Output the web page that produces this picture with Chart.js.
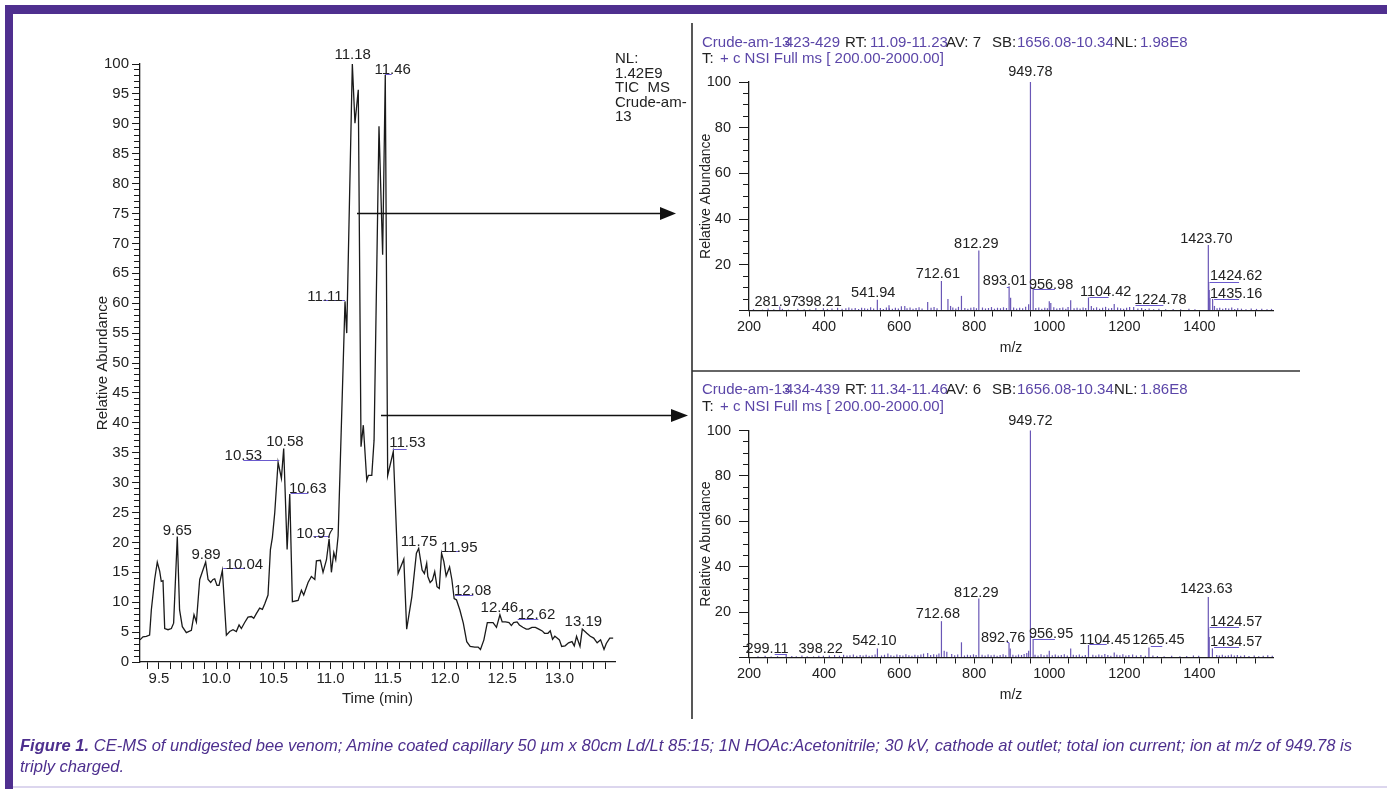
<!DOCTYPE html>
<html><head><meta charset="utf-8">
<script src="https://cdn.jsdelivr.net/npm/chart.js@4.4.1/dist/chart.umd.min.js"></script>
<style>
html,body{margin:0;padding:0;background:#fff;}
#page{position:relative;width:1387px;height:789px;overflow:hidden;background:#fff;font-family:'Liberation Sans',Arial,sans-serif;}
.box{position:absolute;}
.box canvas{display:block;}
.t{position:absolute;white-space:pre;font-size:15px;line-height:18px;color:#222;}
.p{color:#5b46a8;}
#overlay{position:absolute;left:0;top:0;pointer-events:none;}
.cap{position:absolute;left:20px;color:#4d2f8e;font-style:italic;font-size:17px;line-height:18px;white-space:pre;transform-origin:0 0;font-family:'Liberation Sans Narrow','Liberation Sans',Arial,sans-serif;}
</style></head>
<body>
<div id="page">
  <div class="box" style="left:0;top:0;width:692px;height:789px"><canvas id="tic" width="692" height="789"></canvas></div>
  <div class="box" style="left:692px;top:0;width:695px;height:371px"><canvas id="ms1" width="695" height="371"></canvas></div>
  <div class="box" style="left:692px;top:371px;width:695px;height:418px"><canvas id="ms2" width="695" height="418"></canvas></div>
  <svg id="overlay" width="1387" height="789">
    <rect x="5" y="5" width="1382" height="9" fill="#4f2f8f"/>
    <rect x="5" y="5" width="8" height="784" fill="#4f2f8f"/>
    <rect x="13" y="786" width="1374" height="2" fill="#dcd6ee"/>
    <line x1="692" y1="23" x2="692" y2="719" stroke="#111" stroke-width="1.4"/>
    <line x1="692" y1="371" x2="1300" y2="371" stroke="#333" stroke-width="1.4"/>
    <line x1="357" y1="213.5" x2="662" y2="213.5" stroke="#111" stroke-width="1.3"/>
    <polygon points="676,213.5 660,207 660,220" fill="#111"/>
    <line x1="381" y1="415.5" x2="673" y2="415.5" stroke="#111" stroke-width="1.3"/>
    <polygon points="688,415.5 671,409 671,422" fill="#111"/>
  </svg>
</div>
<script>
// ---------------- DATA ----------------
// Total ion current chromatogram (time in min, relative abundance %)
const ticTime = [
  9.334, 9.36, 9.389, 9.418, 9.433, 9.462, 9.485, 9.506, 9.52, 9.535,
  9.55, 9.579, 9.608, 9.628, 9.66, 9.68, 9.704, 9.739, 9.783, 9.806,
  9.827, 9.856, 9.908, 9.929, 9.952, 9.972, 9.987, 10.007, 10.025, 10.054,
  10.089, 10.118, 10.147, 10.176, 10.2, 10.22, 10.249, 10.278, 10.308, 10.328,
  10.351, 10.38, 10.404, 10.424, 10.453, 10.474, 10.491, 10.512, 10.541, 10.57,
  10.59, 10.62, 10.643, 10.666, 10.716, 10.745, 10.765, 10.803, 10.832, 10.862,
  10.876, 10.911, 10.934, 10.964, 10.987, 11.007, 11.028, 11.045, 11.066, 11.126,
  11.141, 11.19, 11.213, 11.242, 11.266, 11.286, 11.316, 11.33, 11.36, 11.38,
  11.423, 11.455, 11.478, 11.499, 11.548, 11.59, 11.64, 11.665, 11.71, 11.75,
  11.77, 11.80, 11.82, 11.84, 11.85, 11.87, 11.89, 11.91, 11.93, 11.95,
  11.97, 11.99, 12.01, 12.04, 12.06, 12.08, 12.10, 12.13, 12.16, 12.19,
  12.22, 12.26, 12.29, 12.31, 12.34, 12.37, 12.42, 12.45, 12.48, 12.50,
  12.53, 12.56, 12.58, 12.60, 12.63, 12.65, 12.68, 12.71, 12.73, 12.76,
  12.79, 12.82, 12.85, 12.87, 12.90, 12.92, 12.94, 12.96, 12.98, 13.00,
  13.02, 13.05, 13.08, 13.11, 13.13, 13.15, 13.18, 13.20, 13.24, 13.27,
  13.30, 13.33, 13.36, 13.39, 13.41, 13.44, 13.47
];
const ticAbund = [
  3.7, 4.2, 4.3, 4.5, 8.7, 13.8, 16.7, 15.2, 13.5, 13.6,
  5.6, 5.4, 5.6, 6.5, 21.0, 8.7, 5.9, 4.9, 5.3, 7.9,
  6.7, 13.8, 16.7, 13.8, 13.3, 13.8, 13.9, 12.8, 12.8, 15.3,
  4.5, 5.1, 5.4, 5.1, 6.2, 5.6, 6.6, 7.5, 7.6, 7.3,
  8.1, 9.0, 8.8, 9.7, 11.2, 18.8, 20.8, 25.0, 33.4, 30.7,
  35.7, 18.8, 28.1, 10.1, 10.3, 12.0, 11.2, 13.3, 14.3, 13.8,
  16.9, 17.0, 15.0, 17.1, 20.6, 15.0, 18.3, 17.1, 21.1, 60.3,
  55.0, 100, 90.1, 95.7, 36.0, 39.6, 30.4, 31.2, 31.2, 37.1,
  89.6, 68.1, 98.2, 31.2, 35.2, 14.8, 17.2, 5.5, 10.9, 18.2,
  19.0, 15.4, 14.8, 16.5, 14.3, 13.3, 13.7, 15.1, 12.6, 12.3,
  18.2, 16.8, 14.4, 15.9, 13.8, 10.6, 10.4, 8.7, 6.5, 3.4,
  2.6, 2.5, 2.5, 2.1, 3.7, 6.6, 6.6, 5.8, 7.9, 6.7,
  6.7, 6.6, 6.1, 6.6, 6.7, 6.2, 5.8, 5.5, 5.5, 5.8,
  5.8, 5.5, 5.2, 4.8, 4.8, 5.2, 3.8, 4.3, 4.0, 3.7,
  2.6, 2.7, 3.2, 3.4, 2.7, 4.3, 2.6, 5.5, 4.8, 4.3,
  4.0, 3.2, 3.7, 2.1, 3.1, 4.0, 4.0
];
// Chromatogram peak labels (text, anchor time, anchor abundance)
const ticLabelText = ['9.65','9.89','10.04','10.53','10.58','10.63','10.97','11.11','11.18','11.46','11.53','11.75','11.95','12.08','12.46','12.62','13.19'];
const ticLabelT = [9.66, 9.911, 10.246, 10.237, 10.601, 10.80, 10.864, 10.951, 11.193, 11.543, 11.671, 11.773, 12.125, 12.242, 12.475, 12.80, 13.209];
const ticLabelV = [22.0, 17.9, 16.3, 34.4, 36.8, 29.0, 21.5, 61.1, 101.5, 99.1, 36.6, 20.1, 19.1, 11.9, 9.0, 7.9, 6.7];
const ticLinks = [[10.062,10.243,15.8],[10.237,10.552,33.7],[10.651,10.805,28.3],[10.849,10.989,21.0],[10.936,11.126,60.6],
                  [11.476,11.534,98.4],[11.543,11.665,35.7],[11.971,12.125,18.6],[12.087,12.247,11.2],[12.636,12.816,7.2]];
const ticXTicks = [9.5, 10.0, 10.5, 11.0, 11.5, 12.0, 12.5, 13.0];

// Mass spectrum 1 (RT 11.09-11.23)
const ms1PeakMz  = [281.97, 398.21, 541.94, 573, 615, 676, 712.61, 730, 737, 766, 812.29, 893.01, 897, 945, 949.78, 956.98, 1000, 1004, 1057, 1104.42, 1112, 1173, 1224.78, 1423.70, 1424.62, 1426, 1428, 1435.16, 1440];
const ms1PeakInt = [1.8, 1.0, 4.7, 2.3, 2.0, 3.7, 12.9, 5.0, 2.0, 6.4, 26.3, 10.6, 5.6, 2.7, 100, 9.4, 4.0, 3.3, 4.5, 5.7, 2.0, 2.8, 1.5, 28.7, 12.5, 9.0, 5.5, 5.0, 2.0];
const ms1Noise = [
  [212,0.6],[236,0.4],[251,0.9],[266,0.5],[289,0.7],[305,0.4],[330,0.8],[347,0.5],[362,0.6],[378,1.1],
  [409,0.7],[421,0.9],[436,1.2],[448,0.8],[458,1.0],[466,1.3],[474,0.9],[483,1.1],[492,0.7],[500,1.2],
  [508,1.0],[516,0.8],[524,1.4],[532,0.9],[550,1.1],[558,0.7],[566,1.3],[574,1.0],[582,0.8],[590,1.2],
  [598,0.9],[606,1.9],[621,1.0],[629,1.3],[637,0.8],[645,1.1],[653,1.4],[661,0.9],[685,1.2],[693,1.5],
  [701,1.0],[743,1.3],[751,0.9],[758,1.6],[775,1.1],[783,0.8],[791,1.2],[799,1.4],[806,1.0],[822,1.3],
  [830,0.9],[838,1.1],[846,1.5],[854,0.8],[862,1.2],[870,1.0],[878,1.4],[886,1.1],[905,1.3],[913,0.9],
  [921,1.2],[929,1.0],[937,1.6],[964,1.1],[972,1.3],[980,0.8],[988,1.2],[995,1.0],[1012,1.4],[1020,0.9],
  [1028,1.1],[1036,1.3],[1044,0.8],[1050,1.5],[1066,1.0],[1074,1.2],[1082,0.9],[1090,1.3],[1097,1.1],[1118,1.0],
  [1126,1.4],[1134,0.8],[1142,1.2],[1150,1.6],[1158,0.9],[1166,1.1],[1182,1.3],[1190,1.0],[1198,0.8],[1206,1.2],
  [1214,1.5],[1236,0.9],[1246,1.1],[1256,0.7],[1266,0.9],[1278,0.6],[1292,0.8],[1310,0.5],[1330,0.7],[1350,0.6],
  [1372,0.8],[1388,0.5],[1447,1.0],[1454,1.2],[1462,0.8],[1470,1.1],[1478,0.9],[1486,1.3],[1494,0.7],[1502,1.0],
  [1512,0.8],[1524,0.6],[1538,0.9],[1552,0.7],[1566,0.8],[1580,0.6],[1592,0.7]
];
const ms1LabelText = ['281.97','398.21','541.94','712.61','812.29','893.01','949.78','956.98','1104.42','1224.78','1423.70','1424.62','1435.16'];
const ms1LabelMz   = [273.6, 388, 531, 703, 805.5, 882, 949.7, 1004.7, 1150, 1296, 1418.5, 1498, 1498];
const ms1LabelInt  = [3.7, 3.7, 7.8, 15.9, 29.3, 12.7, 104.2, 11.2, 8.2, 4.6, 31.1, 15.1, 7.3];
const ms1Links = [[268.6,278.7,2.4],[887,893,10.5],[956.7,1015,9.2],[1107,1158,5.9],[1229.6,1304,2.4],[1427,1505.6,12.4],[1439,1505.6,5.0]];

// Mass spectrum 2 (RT 11.34-11.46)
const ms2PeakMz  = [299.11, 398.22, 542.10, 570, 676, 712.68, 720, 727, 766, 812.29, 892.76, 896, 940, 945, 949.72, 956.95, 1000, 1057, 1104.45, 1173, 1265.45, 1423.63, 1424.57, 1426, 1434.57];
const ms2PeakInt = [1.5, 0.8, 4.0, 1.8, 2.0, 16.0, 3.0, 2.5, 6.7, 26.0, 6.4, 4.0, 2.0, 3.0, 100, 8.2, 3.0, 4.0, 5.5, 2.2, 4.4, 26.7, 12.9, 9.0, 4.0];
const ms2Noise = [
  [224,0.5],[243,0.8],[259,0.4],[276,0.6],[314,0.7],[326,0.5],[341,0.9],[355,0.6],[372,0.5],[386,0.8],
  [414,0.9],[428,1.1],[441,0.8],[452,1.2],[461,0.9],[469,1.0],[478,1.3],[487,0.8],[496,1.1],[504,0.9],
  [512,1.2],[520,0.8],[528,1.0],[536,1.3],[553,0.9],[561,1.2],[578,1.0],[586,0.8],[594,1.3],[602,1.1],
  [610,0.9],[618,1.4],[626,1.0],[634,0.8],[642,1.2],[650,1.0],[658,1.3],[665,1.7],[684,1.1],[692,1.4],
  [700,1.2],[706,1.8],[740,1.5],[748,1.0],[756,1.3],[774,0.9],[782,1.2],[790,1.0],[798,1.4],[805,1.1],
  [821,1.2],[829,0.9],[837,1.3],[845,1.0],[853,1.2],[861,0.8],[869,1.1],[877,1.4],[884,1.0],[903,1.2],
  [911,0.9],[918,1.3],[926,1.1],[933,1.5],[962,1.2],[970,0.9],[978,1.4],[986,1.0],[994,1.2],[1008,1.0],
  [1016,1.3],[1024,0.9],[1032,1.1],[1040,1.4],[1048,0.9],[1064,1.2],[1072,1.0],[1080,1.3],[1088,0.8],[1096,1.1],
  [1116,1.2],[1124,0.9],[1132,1.3],[1140,1.0],[1148,1.5],[1156,1.1],[1164,0.8],[1180,1.2],[1188,1.0],[1196,1.4],
  [1204,0.9],[1212,1.1],[1222,1.3],[1232,0.9],[1244,1.1],[1256,0.8],[1276,0.9],[1288,0.7],[1306,0.6],[1326,0.8],
  [1348,0.6],[1366,0.7],[1384,0.9],[1398,0.8],[1446,1.1],[1453,0.9],[1461,1.2],[1469,0.8],[1477,1.0],[1485,1.3],
  [1493,0.9],[1501,1.1],[1510,0.8],[1520,1.0],[1532,0.7],[1546,0.9],[1558,0.6],[1570,0.8],[1582,1.0],[1594,0.8]
];
const ms2LabelText = ['299.11','398.22','542.10','712.68','812.29','892.76','949.72','956.95','1104.45','1265.45','1423.63','1424.57','1434.57'];
const ms2LabelMz   = [248, 391, 534, 703, 805.5, 877, 949.7, 1004.7, 1148, 1290.8, 1418.5, 1498, 1498];
const ms2LabelInt  = [3.6, 3.6, 7.4, 19.1, 28.6, 8.6, 104.2, 10.4, 7.7, 7.7, 30.0, 15.6, 7.0];
const ms2Links = [[268.6,299.3,1.4],[887,893,6.7],[956.7,1015,8.2],[1107,1153,5.9],[1270.5,1301,5.1],[1427,1505.6,13.4],[1439,1505.6,4.6]];

const msXTicks = [200, 400, 600, 800, 1000, 1200, 1400];
const msXMax = 1596;

// Header texts
const ms1Header = [['Crude-am-13',702,'p'],['423-429',785,'p'],['RT:',845,''],['11.09-11.23',870,'p'],['AV: 7',946,''],['SB:',992,''],['1656.08-10.34',1017,'p'],['NL:',1114,''],['1.98E8',1140,'p']];
const ms2Header = [['Crude-am-13',702,'p'],['434-439',785,'p'],['RT:',845,''],['11.34-11.46',870,'p'],['AV: 6',946,''],['SB:',992,''],['1656.08-10.34',1017,'p'],['NL:',1114,''],['1.86E8',1140,'p']];
const scanLine = [['T:',702,''],['+ c NSI Full ms [ 200.00-2000.00]',720,'p']];
const nlLines = ['NL:', '1.42E9', 'TIC  MS', 'Crude-am-', '13'];

// ---------------- RENDER ----------------
const FONT = "'Liberation Sans', Arial, sans-serif";
Chart.defaults.font.family = FONT;
Chart.defaults.color = '#222';
const INK = '#1a1a1a';
const PURPLE = '#6a57b6';
const LINK = '#6a5acd';

const page = document.getElementById('page');
function addText(str, x, yc, cls) {
  const s = document.createElement('span');
  s.className = 't ' + (cls || '');
  s.textContent = str;
  s.style.left = x + 'px';
  s.style.top = (yc - 9) + 'px';
  page.appendChild(s);
}
ms1Header.forEach(h => addText(h[0], h[1], 42, h[2]));
scanLine.forEach(h => addText(h[0], h[1], 58, h[2]));
ms2Header.forEach(h => addText(h[0], h[1], 389, h[2]));
scanLine.forEach(h => addText(h[0], h[1], 406, h[2]));
nlLines.forEach((s, i) => addText(s, 615, 58 + i * 14.6, ''));

function annotations(name, cfg) {
  return {
    id: 'annot_' + name,
    afterDatasetsDraw(chart) {
      const ctx = chart.ctx, xs = chart.scales.x, ys = chart.scales.y;
      ctx.save();
      ctx.strokeStyle = LINK; ctx.lineWidth = 1;
      cfg.links.forEach(l => {
        const y = Math.round(ys.getPixelForValue(l[2])) + 0.5;
        ctx.beginPath();
        ctx.moveTo(xs.getPixelForValue(l[0]), y);
        ctx.lineTo(xs.getPixelForValue(l[1]), y);
        ctx.stroke();
      });
      ctx.fillStyle = '#222'; ctx.font = cfg.font;
      ctx.textAlign = 'center'; ctx.textBaseline = 'middle';
      cfg.text.forEach((s, i) => ctx.fillText(s, xs.getPixelForValue(cfg.x[i]), ys.getPixelForValue(cfg.y[i])));
      ctx.restore();
    }
  };
}

const noEvents = { animation: false, responsive: false, maintainAspectRatio: false, events: [] };

// ---- TIC chromatogram ----
new Chart(document.getElementById('tic'), {
  type: 'scatter',
  data: { datasets: [{
    data: ticTime.map((t, i) => ({ x: t, y: ticAbund[i] })),
    showLine: true, borderColor: INK, borderWidth: 1.3, pointRadius: 0, tension: 0, clip: false,
    xAxisID: 'x', yAxisID: 'y'
  }]},
  options: Object.assign({}, noEvents, {
    layout: { padding: { left: 0, top: 64, right: 77, bottom: 77 } },
    plugins: { legend: { display: false }, tooltip: { enabled: false } },
    scales: {
      x: {
        type: 'linear', position: 'bottom', min: 9.334, max: 13.486,
        afterFit: s => { s.height = 50; },
        border: { display: true, color: INK, width: 1.3 },
        grid: { drawOnChartArea: false, drawTicks: true, tickLength: 7, color: INK, tickColor: INK, lineWidth: 1 },
        ticks: { stepSize: 0.1, autoSkip: false, includeBounds: false, maxRotation: 0, padding: 1, color: '#222',
                 font: { size: 15 },
                 callback: v => { const r = Math.round(v * 10) / 10; return ticXTicks.some(k => Math.abs(k - r) < 1e-6) ? r.toFixed(1) : ''; } },
        title: { display: true, text: 'Time (min)', color: '#222', font: { size: 15 }, padding: { top: 0, bottom: 4 } }
      },
      y: {
        axis: 'y', position: 'left', weight: 1, min: 0, max: 100,
        afterFit: s => { s.width = 140; },
        border: { display: true, color: INK, width: 1.3 },
        grid: { drawOnChartArea: false, drawTicks: true, tickLength: 8, color: INK, tickColor: INK, lineWidth: 1 },
        ticks: { stepSize: 5, autoSkip: false, includeBounds: false, padding: 3, color: '#222', font: { size: 15 } },
        title: { display: true, text: 'Relative Abundance', color: '#222', font: { size: 15 }, padding: { top: 94, bottom: 0 } }
      },
      yMinor: {
        axis: 'y', position: 'left', weight: 0, min: 0, max: 100,
        afterFit: s => { s.width = 0; },
        border: { display: false },
        grid: { drawOnChartArea: false, drawTicks: true, tickLength: 6, color: INK, tickColor: INK, lineWidth: 1 },
        ticks: { stepSize: 1, autoSkip: false, includeBounds: false, padding: 0, callback: () => '' }
      }
    }
  }),
  plugins: [annotations('tic', { text: ticLabelText, x: ticLabelT, y: ticLabelV, links: ticLinks, font: '15px ' + FONT })]
});

// ---- mass spectra ----
function spectrum(canvasId, peakMz, peakInt, noise, labels, pad) {
  const pts = peakMz.map((m, i) => ({ x: m, y: peakInt[i] })).concat(noise.map(n => ({ x: n[0], y: n[1] })));
  pts.sort((a, b) => a.x - b.x);
  return new Chart(document.getElementById(canvasId), {
    type: 'bar',
    data: { datasets: [{
      data: pts, backgroundColor: PURPLE, borderWidth: 0, barThickness: 1.2, inflateAmount: 0,
      xAxisID: 'x', yAxisID: 'y', clip: false
    }]},
    options: Object.assign({}, noEvents, {
      layout: { padding: pad },
      plugins: { legend: { display: false }, tooltip: { enabled: false } },
      scales: {
        x: {
          type: 'linear', position: 'bottom', min: 200, max: msXMax, offset: false,
          afterFit: s => { s.height = 50; },
          border: { display: true, color: INK, width: 1.3 },
          grid: { offset: false, drawOnChartArea: false, drawTicks: true, tickLength: 6, color: INK, tickColor: INK, lineWidth: 1 },
          ticks: { stepSize: 50, autoSkip: false, includeBounds: false, maxRotation: 0, padding: 2, color: '#222', font: { size: 14.5 },
                   callback: v => { const r = Math.round(v); return msXTicks.includes(r) ? String(r) : ''; } },
          title: { display: true, text: 'm/z', color: '#222', font: { size: 14 }, padding: { top: 0, bottom: 3.6 } }
        },
        y: {
          axis: 'y', position: 'left', weight: 1, min: 0, max: 100,
          afterFit: s => { s.width = 57; },
          border: { display: true, color: INK, width: 1.3 },
          grid: { drawOnChartArea: false, drawTicks: true, tickLength: 10, color: INK, tickColor: INK, lineWidth: 1 },
          ticks: { stepSize: 20, autoSkip: false, padding: 8, color: '#222', font: { size: 14.5 }, callback: v => v === 0 ? '' : v },
          title: { display: true, text: 'Relative Abundance', color: '#222', font: { size: 14 }, padding: { top: 5.6, bottom: 0 } }
        },
        yMinor: {
          axis: 'y', position: 'left', weight: 0, min: 0, max: 100,
          afterFit: s => { s.width = 0; },
          border: { display: false },
          grid: { drawOnChartArea: false, drawTicks: true, tickLength: 6, color: INK, tickColor: INK, lineWidth: 1 },
          ticks: { stepSize: 5, autoSkip: false, padding: 0, callback: () => '' }
        }
      }
    }),
    plugins: [annotations(canvasId, { text: labels.text, x: labels.x, y: labels.y, links: labels.links, font: '14.5px ' + FONT })]
  });
}

spectrum('ms1', ms1PeakMz, ms1PeakInt, ms1Noise,
  { text: ms1LabelText, x: ms1LabelMz, y: ms1LabelInt, links: ms1Links },
  { left: 0, top: 82, right: 114, bottom: 10.5 });
spectrum('ms2', ms2PeakMz, ms2PeakInt, ms2Noise,
  { text: ms2LabelText, x: ms2LabelMz, y: ms2LabelInt, links: ms2Links },
  { left: 0, top: 59.5, right: 114, bottom: 81.5 });

// ---- caption ----
const cap1 = document.createElement('div');
cap1.className = 'cap';
cap1.innerHTML = '<b>Figure 1.</b> CE-MS of undigested bee venom; Amine coated capillary 50 µm x 80cm Ld/Lt 85:15; 1N HOAc:Acetonitrile; 30 kV, cathode at outlet; total ion current; ion at m/z of 949.78 is';
cap1.style.top = (746 - 9) + 'px';
page.appendChild(cap1);
const cap2 = document.createElement('div');
cap2.className = 'cap';
cap2.textContent = 'triply charged.';
cap2.style.top = (767 - 9) + 'px';
page.appendChild(cap2);
const w = cap1.getBoundingClientRect().width;
const sc = 1332 / w;
cap1.style.transform = 'scaleX(' + sc + ')';
cap2.style.transform = 'scaleX(' + sc + ')';
</script>
</body></html>
